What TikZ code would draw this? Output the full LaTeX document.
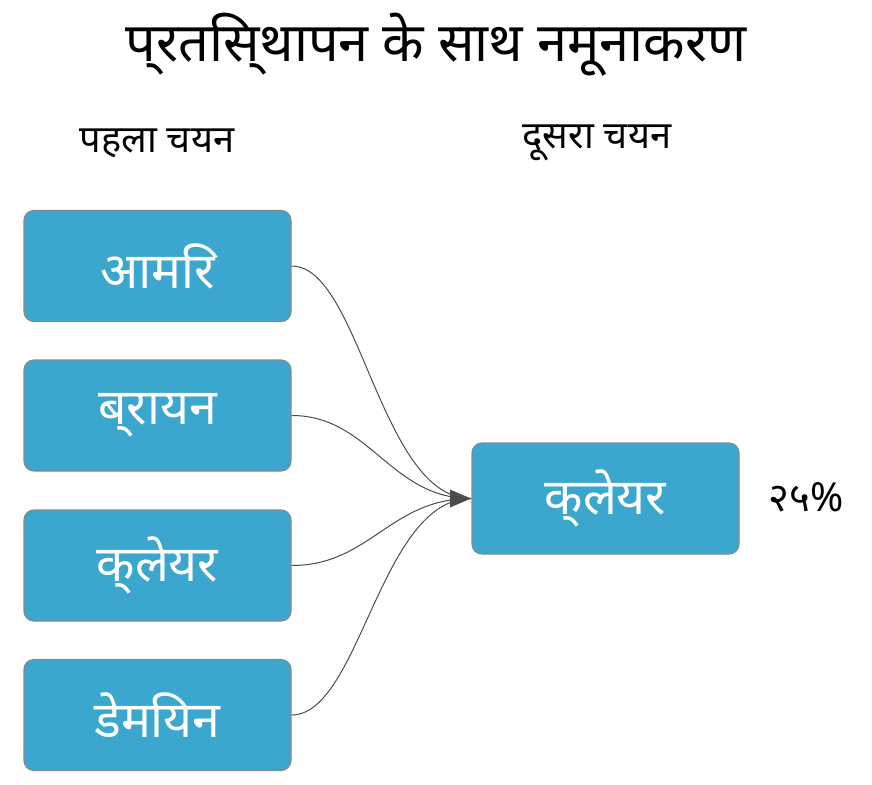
\documentclass[tikz,border=0pt]{standalone}
\usepackage{fontspec}
\setmainfont{Noto Sans}
\usetikzlibrary{arrows.meta}
\definecolor{boxblue}{HTML}{3BA7CE}
\definecolor{boxedge}{HTML}{7F8C93}
\begin{document}
\begin{tikzpicture}[x=1pt,y=-1pt,
  box/.style={draw=boxedge,line width=1.2pt,fill=boxblue,rounded corners=10pt,minimum width=267pt,minimum height=111pt,text=white,font=\fontsize{50}{58}\selectfont},
  link/.style={draw=black!70,line width=1pt}]
\useasboundingbox (0,0) rectangle (872,784);
\node[font=\fontsize{54}{62}\selectfont\bfseries] (title) at (436,45) {प्रतिस्थापन के साथ नमूनाकरण};
\node[font=\fontsize{38}{44}\selectfont] (h1) at (157,143) {पहला चयन};
\node[font=\fontsize{38}{44}\selectfont] (h2) at (597,143) {दूसरा चयन};
\node[box] (a) at (157.5,266) {आमिर};
\node[box] (b) at (157.5,415.5) {ब्रायन};
\node[box] (c) at (157.5,565.5) {क्लेयर};
\node[box] (d) at (157.5,715) {डेमियन};
\node[box] (r) at (605.5,498.5) {क्लेयर};
\node[font=\fontsize{40}{46}\selectfont] (p) at (806,497) {२५\%};
\coordinate (t) at (471,498.5);
\draw[link] (a.east) .. controls (360,266) and (380,498.5) .. (t);
\draw[link] (b.east) .. controls (370,415.5) and (390,498.5) .. (t);
\draw[link] (c.east) .. controls (370,565.5) and (390,498.5) .. (t);
\draw[link] (d.east) .. controls (360,715) and (380,498.5) .. (t);
\fill[black!70] (450,489.5) -- (t) -- (450,507.5) -- cycle;
\end{tikzpicture}
\end{document}
